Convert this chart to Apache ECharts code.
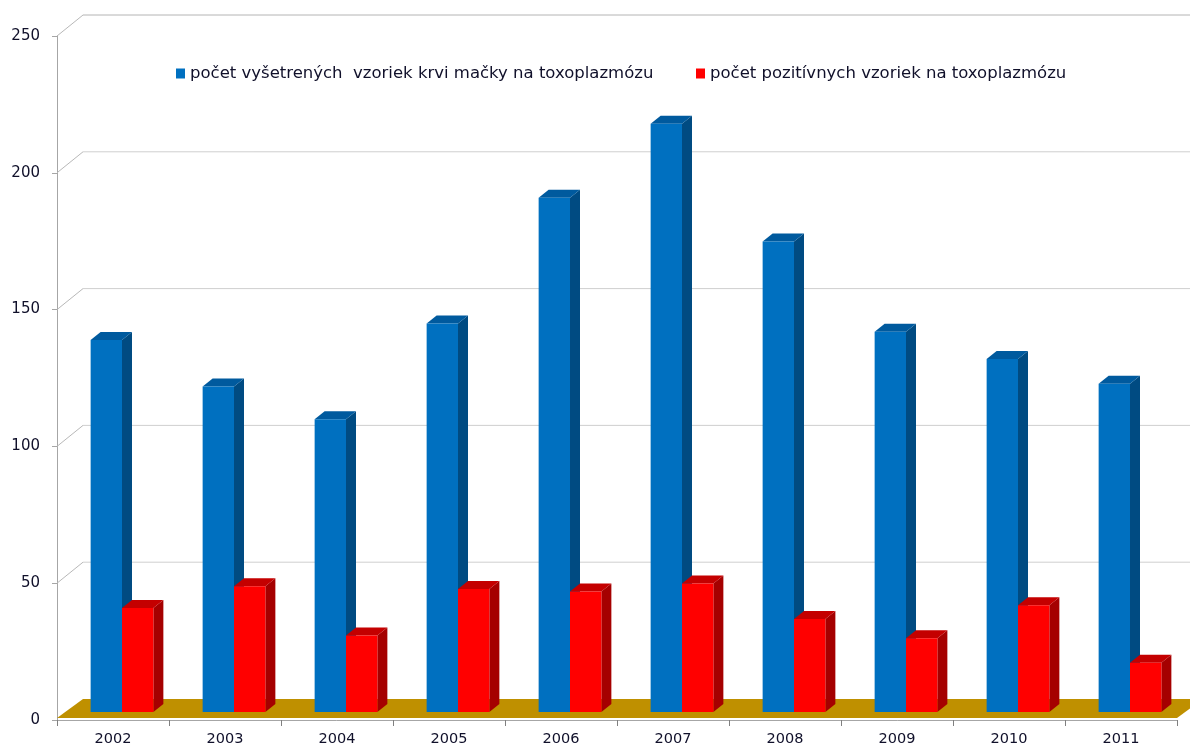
<!DOCTYPE html>
<html>
<head>
<meta charset="utf-8">
<script src="https://cdn.jsdelivr.net/npm/echarts@6/dist/echarts.min.js"></script>
<style>
  html, body { margin: 0; padding: 0; background: #ffffff; }
  #chart { width: 1190px; height: 750px; }
</style>
</head>
<body>
<div id="chart"></div>
<script>
// Years on the category axis
const years = ['2002', '2003', '2004', '2005', '2006', '2007', '2008', '2009', '2010', '2011'];
// Number of examined cat blood samples
const examined = [136, 119, 107, 142, 188, 215, 172, 139, 129, 120];
// Number of positive samples
const positive = [38, 46, 28, 45, 44, 47, 34, 27, 39, 18];
// Value-axis ticks
const yTicks = [0, 50, 100, 150, 200, 250];

const nameExamined = 'počet vyšetrených  vzoriek krvi mačky na toxoplazmózu';
const namePositive = 'počet pozitívnych vzoriek na toxoplazmózu';

// Pseudo-3D geometry (pixels)
const WALL = [26, -21];      // offset of back wall from the front plane
const BAR_SHIFT = [9, -8];   // bar front face sits a little into the floor
const DEPTH = [10, -8];      // visible depth of each bar
const BAR_FRAC = 0.28;       // bar width as share of the category band

const FONT = 'DejaVu Sans';
const TEXT = '#10102a';

function barRenderer(slot, colors) {
  return function (params, api) {
    const i = api.value(0);
    const v = api.value(1);
    const base = api.coord([i, 0]);
    const top = api.coord([i, v]);
    const band = api.size([1, 0])[0];
    const w = band * BAR_FRAC;
    const x0 = base[0] - w + slot * w + BAR_SHIFT[0];
    const x1 = x0 + w;
    const yb = base[1] + BAR_SHIFT[1];
    const yt = top[1] + BAR_SHIFT[1];
    const dx = DEPTH[0], dy = DEPTH[1];
    return {
      type: 'group',
      children: [
        { type: 'polygon', shape: { points: [[x1, yb], [x1 + dx, yb + dy], [x1 + dx, yt + dy], [x1, yt]] },
          style: { fill: colors.side } },
        { type: 'polygon', shape: { points: [[x0, yt], [x0 + dx, yt + dy], [x1 + dx, yt + dy], [x1, yt]] },
          style: { fill: colors.top } },
        { type: 'rect', shape: { x: x0, y: yt, width: w, height: yb - yt },
          style: { fill: colors.front } }
      ]
    };
  };
}

// Back wall grid lines, left wall edges and the golden floor
function wallRenderer(params, api) {
  const v = api.value(1);
  const band = api.size([1, 0])[0];
  const p = api.coord([0, v]);
  const xl = p[0] - band / 2;
  const xr = api.coord([years.length - 1, v])[0] + band / 2;
  const y = p[1];
  const children = [];
  if (v === 0) {
    children.push({
      type: 'polygon',
      shape: { points: [[xl, y - 2], [xr, y - 2], [xr + WALL[0], y + WALL[1]], [xl + WALL[0], y + WALL[1]]] },
      style: { fill: '#bf9000' }
    });
  } else {
    children.push({
      type: 'line',
      shape: { x1: xl + WALL[0], y1: y + WALL[1], x2: xr + WALL[0] + 40, y2: y + WALL[1] },
      style: { stroke: v === 250 ? '#b4b4b4' : '#cfcfcf', lineWidth: 1 }
    });
    children.push({
      type: 'line',
      shape: { x1: xl, y1: y, x2: xl + WALL[0], y2: y + WALL[1] },
      style: { stroke: '#b8b8b8', lineWidth: 1 }
    });
  }
  return { type: 'group', children: children };
}

const chart = echarts.init(document.getElementById('chart'), null, { renderer: 'canvas' });

chart.setOption({
  backgroundColor: '#ffffff',
  animation: false,
  legend: [
    {
      data: [nameExamined], left: 171, top: 60, icon: 'rect', itemWidth: 9, itemHeight: 10,
      textStyle: { fontFamily: FONT, fontSize: 16.5, color: TEXT }
    },
    {
      data: [namePositive], left: 691, top: 60, icon: 'rect', itemWidth: 9, itemHeight: 10,
      textStyle: { fontFamily: FONT, fontSize: 16.5, color: TEXT }
    }
  ],
  grid: { left: 57, right: 13, top: 36, bottom: 30, containLabel: false },
  xAxis: {
    type: 'category',
    data: years,
    boundaryGap: true,
    axisLine: { show: true, lineStyle: { color: '#a6a6a6', width: 1 } },
    axisTick: { show: true, length: 6, interval: 0, lineStyle: { color: '#808080' } },
    axisLabel: { margin: 12, fontFamily: FONT, fontSize: 14.5, color: TEXT }
  },
  yAxis: {
    type: 'value',
    min: 0,
    max: 250,
    interval: 50,
    axisLine: { show: true, lineStyle: { color: '#a6a6a6', width: 1 } },
    axisTick: { show: true, length: 5, lineStyle: { color: '#a6a6a6' } },
    splitLine: { show: false },
    axisLabel: { margin: 17, fontFamily: FONT, fontSize: 15, color: TEXT }
  },
  series: [
    {
      type: 'custom',
      name: 'wall',
      clip: false,
      silent: true,
      data: yTicks.map(v => [0, v]),
      encode: { x: 0, y: 1 },
      renderItem: wallRenderer
    },
    {
      type: 'custom',
      name: nameExamined,
      clip: false,
      itemStyle: { color: '#0070c0' },
      data: examined.map((v, i) => [i, v]),
      encode: { x: 0, y: 1 },
      renderItem: barRenderer(0, { front: '#0070c0', side: '#004b82', top: '#005a9e' })
    },
    {
      type: 'custom',
      name: namePositive,
      clip: false,
      itemStyle: { color: '#ff0000' },
      data: positive.map((v, i) => [i, v]),
      encode: { x: 0, y: 1 },
      renderItem: barRenderer(1, { front: '#ff0000', side: '#a50000', top: '#c40000' })
    }
  ]
});
</script>
</body>
</html>
